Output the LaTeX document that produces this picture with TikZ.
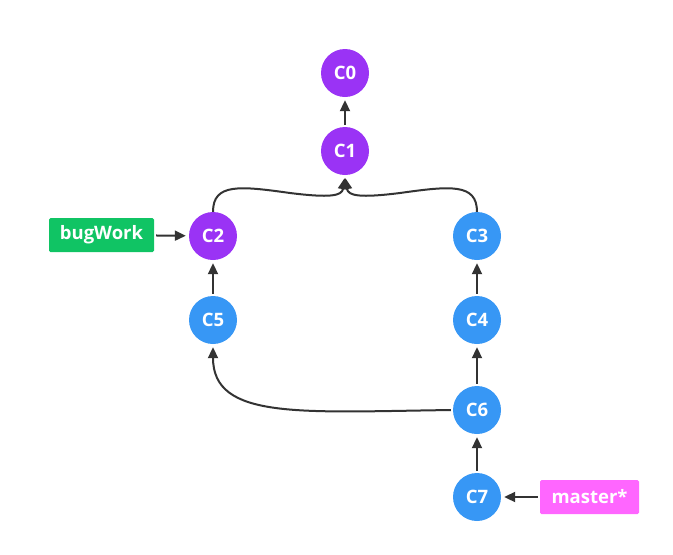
\documentclass[tikz,border=0pt]{standalone}
\usepackage{fontspec}
\setmainfont{Open Sans}
\usetikzlibrary{arrows.meta}
\definecolor{cpurple}{HTML}{9A33F5}
\definecolor{cblue}{HTML}{3797F5}
\definecolor{cgreen}{HTML}{10C464}
\definecolor{cpink}{HTML}{FF66FF}
\definecolor{cline}{HTML}{333333}
\begin{document}
\begin{tikzpicture}[x=1pt,y=-1pt,
  commit/.style={circle,minimum size=48pt,inner sep=0pt,text=white,font=\fontsize{18.5}{20}\selectfont\bfseries},
  purplec/.style={commit,fill=cpurple},
  bluec/.style={commit,fill=cblue},
  tagbox/.style={rounded corners=1.5pt,inner sep=0pt,text=white,font=\fontsize{18.5}{20}\selectfont\bfseries},
  conn/.style={draw=cline,line width=2pt,-{Triangle[length=11pt,width=10pt]},shorten >=3pt,shorten <=2pt}]
\useasboundingbox (0,0) rectangle (673,555);
\node[purplec] (c0) at (345,73) {C0};
\node[purplec] (c1) at (345,151) {C1};
\node[purplec] (c2) at (213,236) {C2};
\node[bluec] (c3) at (477,236) {C3};
\node[bluec] (c5) at (213,320) {C5};
\node[bluec] (c4) at (477,320) {C4};
\node[bluec] (c6) at (477,410) {C6};
\node[bluec] (c7) at (477,497) {C7};
\node[tagbox,fill=cgreen,minimum width=105pt,minimum height=34pt] (bug) at (101.5,235) {bugWork};
\node[tagbox,fill=cpink,minimum width=99pt,minimum height=34pt] (master) at (589.5,497) {master*};
\draw[conn] (c1) -- (c0);
\draw[conn,shorten <=0pt] (c2.north) .. controls (213,183) and (240,186) .. (290,193) .. controls (330,198) and (342,196) .. (c1.south);
\draw[conn,shorten <=0pt] (c3.north) .. controls (477,183) and (450,186) .. (400,193) .. controls (360,198) and (348,196) .. (c1.south);
\draw[conn] (bug) -- (c2);
\draw[conn] (c5) -- (c2);
\draw[conn] (c4) -- (c3);
\draw[conn] (c6) -- (c4);
\draw[conn] (c7) -- (c6);
\draw[conn] (c6.west) .. controls (300,412) and (213,420) .. (c5.south);
\draw[conn] (master) -- (c7);
\end{tikzpicture}
\end{document}
